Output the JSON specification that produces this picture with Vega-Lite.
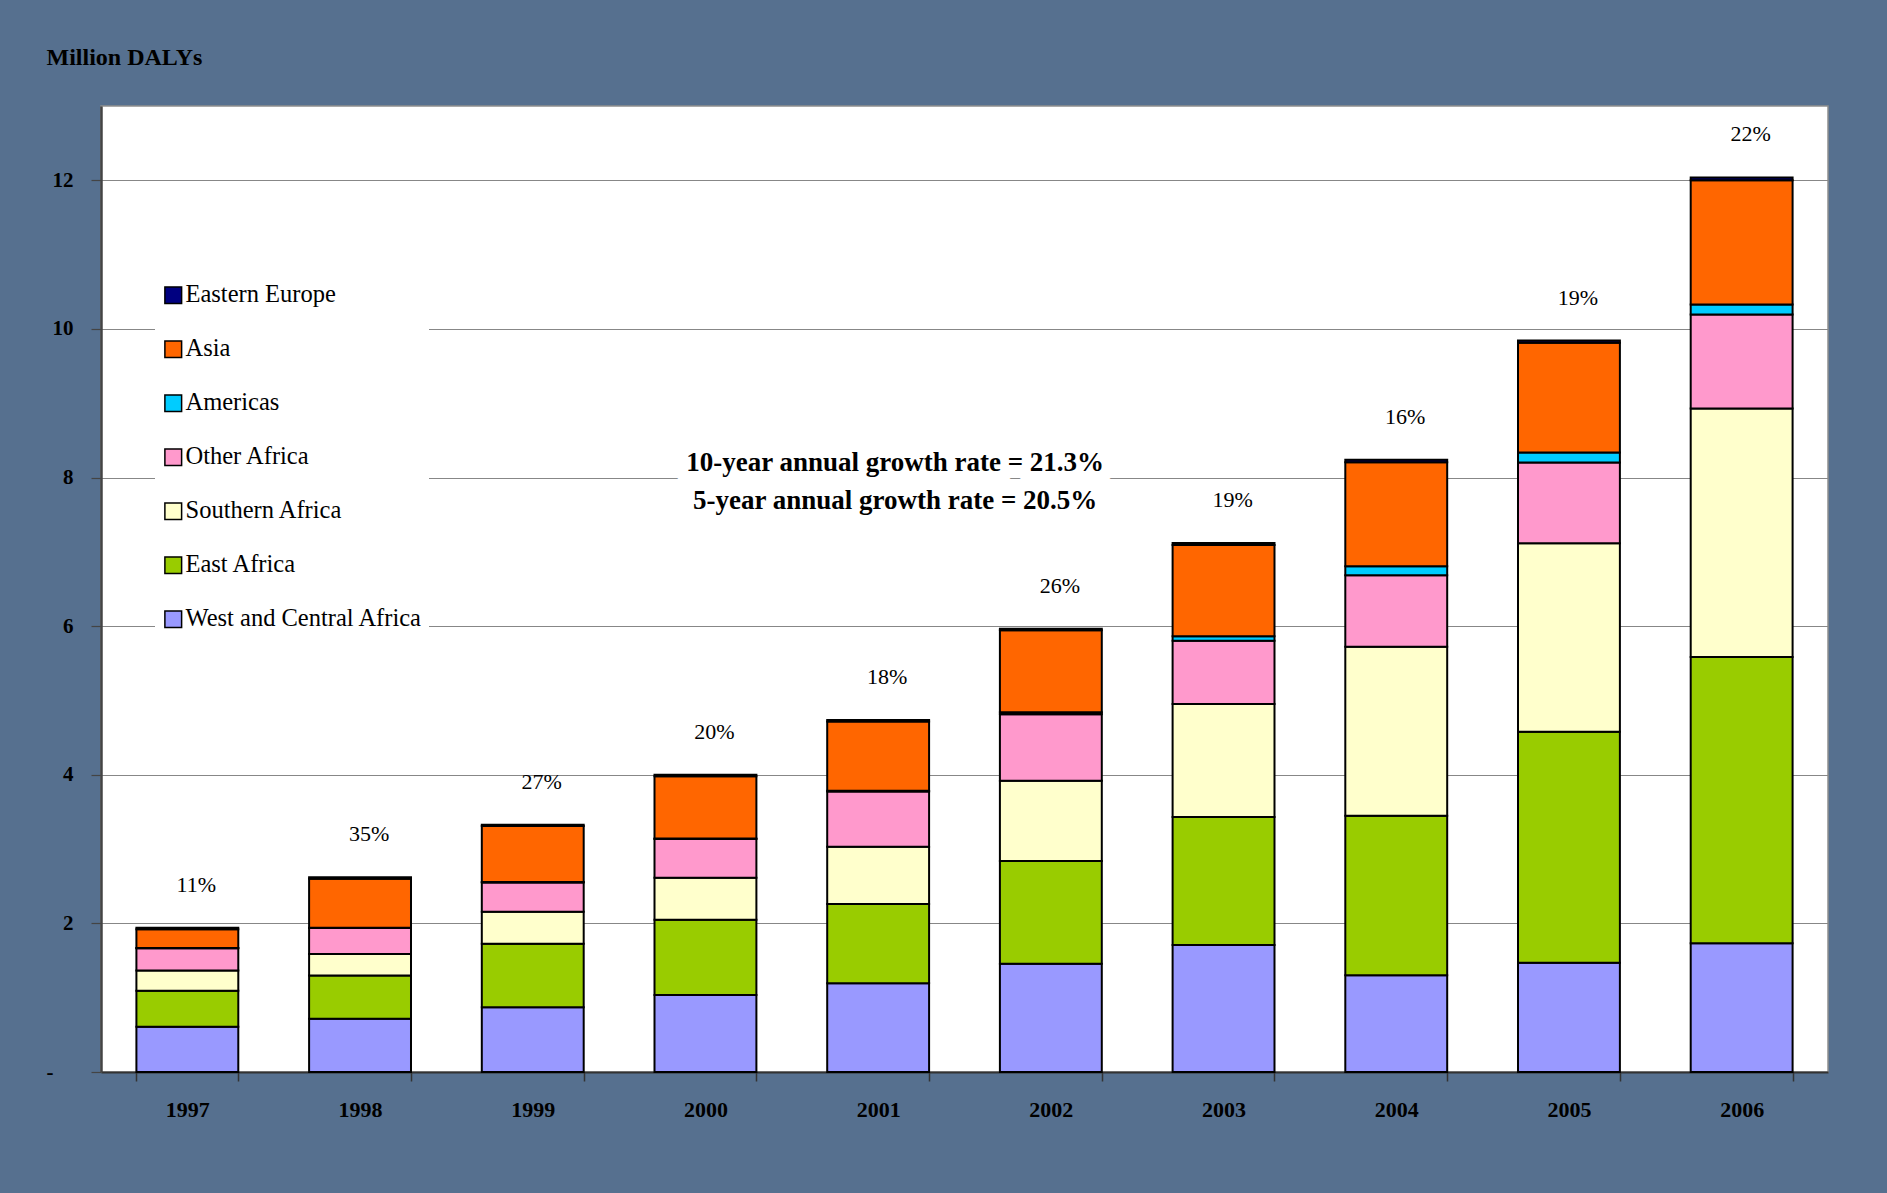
{
  "$schema": "https://vega.github.io/schema/vega-lite/v6.json",
  "width": 1727,
  "height": 966,
  "autosize": {"type": "none"},
  "padding": {"left": 101, "top": 106, "right": 59, "bottom": 121},
  "background": "#56708f",
  "datasets": {
    "daly": [
      {"year": "1997", "region": "West and Central Africa", "value": 0.61},
      {"year": "1997", "region": "East Africa", "value": 0.485},
      {"year": "1997", "region": "Southern Africa", "value": 0.27},
      {"year": "1997", "region": "Other Africa", "value": 0.30},
      {"year": "1997", "region": "Americas", "value": 0.005},
      {"year": "1997", "region": "Asia", "value": 0.25},
      {"year": "1997", "region": "Eastern Europe", "value": 0.02},
      {"year": "1998", "region": "West and Central Africa", "value": 0.717},
      {"year": "1998", "region": "East Africa", "value": 0.583},
      {"year": "1998", "region": "Southern Africa", "value": 0.287},
      {"year": "1998", "region": "Other Africa", "value": 0.35},
      {"year": "1998", "region": "Americas", "value": 0.005},
      {"year": "1998", "region": "Asia", "value": 0.66},
      {"year": "1998", "region": "Eastern Europe", "value": 0.02},
      {"year": "1999", "region": "West and Central Africa", "value": 0.87},
      {"year": "1999", "region": "East Africa", "value": 0.856},
      {"year": "1999", "region": "Southern Africa", "value": 0.43},
      {"year": "1999", "region": "Other Africa", "value": 0.395},
      {"year": "1999", "region": "Americas", "value": 0.005},
      {"year": "1999", "region": "Asia", "value": 0.755},
      {"year": "1999", "region": "Eastern Europe", "value": 0.015},
      {"year": "2000", "region": "West and Central Africa", "value": 1.036},
      {"year": "2000", "region": "East Africa", "value": 1.013},
      {"year": "2000", "region": "Southern Africa", "value": 0.565},
      {"year": "2000", "region": "Other Africa", "value": 0.52},
      {"year": "2000", "region": "Americas", "value": 0.01},
      {"year": "2000", "region": "Asia", "value": 0.835},
      {"year": "2000", "region": "Eastern Europe", "value": 0.02},
      {"year": "2001", "region": "West and Central Africa", "value": 1.193},
      {"year": "2001", "region": "East Africa", "value": 1.067},
      {"year": "2001", "region": "Southern Africa", "value": 0.771},
      {"year": "2001", "region": "Other Africa", "value": 0.745},
      {"year": "2001", "region": "Americas", "value": 0.01},
      {"year": "2001", "region": "Asia", "value": 0.93},
      {"year": "2001", "region": "Eastern Europe", "value": 0.02},
      {"year": "2002", "region": "West and Central Africa", "value": 1.457},
      {"year": "2002", "region": "East Africa", "value": 1.382},
      {"year": "2002", "region": "Southern Africa", "value": 1.08},
      {"year": "2002", "region": "Other Africa", "value": 0.897},
      {"year": "2002", "region": "Americas", "value": 0.025},
      {"year": "2002", "region": "Asia", "value": 1.105},
      {"year": "2002", "region": "Eastern Europe", "value": 0.02},
      {"year": "2003", "region": "West and Central Africa", "value": 1.708},
      {"year": "2003", "region": "East Africa", "value": 1.724},
      {"year": "2003", "region": "Southern Africa", "value": 1.519},
      {"year": "2003", "region": "Other Africa", "value": 0.854},
      {"year": "2003", "region": "Americas", "value": 0.06},
      {"year": "2003", "region": "Asia", "value": 1.227},
      {"year": "2003", "region": "Eastern Europe", "value": 0.027},
      {"year": "2004", "region": "West and Central Africa", "value": 1.303},
      {"year": "2004", "region": "East Africa", "value": 2.146},
      {"year": "2004", "region": "Southern Africa", "value": 2.275},
      {"year": "2004", "region": "Other Africa", "value": 0.962},
      {"year": "2004", "region": "Americas", "value": 0.12},
      {"year": "2004", "region": "Asia", "value": 1.40},
      {"year": "2004", "region": "Eastern Europe", "value": 0.033},
      {"year": "2005", "region": "West and Central Africa", "value": 1.469},
      {"year": "2005", "region": "East Africa", "value": 3.109},
      {"year": "2005", "region": "Southern Africa", "value": 2.539},
      {"year": "2005", "region": "Other Africa", "value": 1.086},
      {"year": "2005", "region": "Americas", "value": 0.133},
      {"year": "2005", "region": "Asia", "value": 1.477},
      {"year": "2005", "region": "Eastern Europe", "value": 0.031},
      {"year": "2006", "region": "West and Central Africa", "value": 1.734},
      {"year": "2006", "region": "East Africa", "value": 3.852},
      {"year": "2006", "region": "Southern Africa", "value": 3.344},
      {"year": "2006", "region": "Other Africa", "value": 1.265},
      {"year": "2006", "region": "Americas", "value": 0.133},
      {"year": "2006", "region": "Asia", "value": 1.672},
      {"year": "2006", "region": "Eastern Europe", "value": 0.039}
    ],
    "regions": [
      {"region": "West and Central Africa", "seq": 1},
      {"region": "East Africa", "seq": 2},
      {"region": "Southern Africa", "seq": 3},
      {"region": "Other Africa", "seq": 4},
      {"region": "Americas", "seq": 5},
      {"region": "Asia", "seq": 6},
      {"region": "Eastern Europe", "seq": 7}
    ],
    "growth": [
      {"year": "1997", "growth": "11%"},
      {"year": "1998", "growth": "35%"},
      {"year": "1999", "growth": "27%"},
      {"year": "2000", "growth": "20%"},
      {"year": "2001", "growth": "18%"},
      {"year": "2002", "growth": "26%"},
      {"year": "2003", "growth": "19%"},
      {"year": "2004", "growth": "16%"},
      {"year": "2005", "growth": "19%"},
      {"year": "2006", "growth": "22%"}
    ],
    "notes": [
      {"note": "10-year annual growth rate = 21.3%\n5-year annual growth rate = 20.5%"}
    ]
  },
  "layer": [
    {
      "data": {"name": "daly"},
      "transform": [
        {"lookup": "region", "from": {"data": {"name": "regions"}, "key": "region", "fields": ["seq"]}}
      ],
      "mark": {"type": "bar", "stroke": "#000000", "strokeWidth": 2},
      "encoding": {
        "x": {
          "field": "year", "type": "ordinal", "title": null,
          "scale": {"paddingInner": 0.41, "paddingOuter": 0.205},
          "axis": {
            "labelAngle": 0, "tickBand": "extent", "tickSize": 9, "tickColor": "#333333", "tickWidth": 1.5,
            "domainColor": "#333333", "domainWidth": 2, "labelFont": "Liberation Serif", "labelFontWeight": "bold",
            "labelFontSize": 22, "labelColor": "#000000", "labelPadding": 18, "grid": false
          }
        },
        "y": {
          "field": "value", "type": "quantitative", "stack": "zero", "title": "Million DALYs",
          "scale": {"domain": [0, 13], "nice": false},
          "axis": {
            "values": [0, 2, 4, 6, 8, 10, 12], "format": "d", "grid": true, "gridColor": "#878787", "gridWidth": 1,
            "domainColor": "#444444", "domainWidth": 2.5, "tickColor": "#444444", "tickSize": 10, "tickWidth": 1.2,
            "labelFont": "Liberation Serif", "labelFontWeight": "bold", "labelFontSize": 21, "labelColor": "#000000",
            "labelPadding": {"condition": {"test": "datum.value == 0", "value": 38}, "value": 18},
            "labelExpr": "datum.value == 0 ? '-' : datum.label",
            "titleAngle": 0, "titleAlign": "left", "titleBaseline": "middle", "titleX": -55, "titleY": -49,
            "titleFont": "Liberation Serif", "titleFontWeight": "bold", "titleFontSize": 24, "titleColor": "#000000"
          }
        },
        "order": {"field": "seq", "type": "quantitative"},
        "color": {
          "field": "region", "type": "nominal",
          "sort": ["Eastern Europe", "Asia", "Americas", "Other Africa", "Southern Africa", "East Africa", "West and Central Africa"],
          "scale": {
            "domain": ["Eastern Europe", "Asia", "Americas", "Other Africa", "Southern Africa", "East Africa", "West and Central Africa"],
            "range": ["#000080", "#ff6600", "#00ccff", "#ff99cc", "#ffffcc", "#99cc00", "#9999ff"]
          },
          "legend": {
            "orient": "none", "legendX": 54, "legendY": 171, "title": null, "fillColor": "#ffffff", "padding": 6,
            "symbolType": "square", "symbolSize": 280, "symbolStrokeColor": "#000000", "symbolStrokeWidth": 1.5,
            "symbolOpacity": 1, "labelFont": "Liberation Serif", "labelFontSize": 24.5, "labelColor": "#000000",
            "rowPadding": 29, "labelOffset": 0, "labelLimit": 400
          }
        }
      }
    },
    {
      "data": {"name": "daly"},
      "transform": [
        {"aggregate": [{"op": "sum", "field": "value", "as": "total"}], "groupby": ["year"]},
        {"lookup": "year", "from": {"data": {"name": "growth"}, "key": "year", "fields": ["growth"]}}
      ],
      "mark": {"type": "text", "dx": 9, "dy": -43, "font": "Liberation Serif", "fontSize": 22, "color": "#000000", "baseline": "middle"},
      "encoding": {
        "x": {"field": "year", "type": "ordinal", "title": null},
        "y": {"field": "total", "type": "quantitative", "title": "Million DALYs"},
        "text": {"field": "growth", "type": "nominal"}
      }
    },
    {
      "data": {"name": "notes"},
      "mark": {"type": "text", "lineBreak": "\n", "lineHeight": 38, "dx": 17, "dy": -15, "font": "Liberation Serif", "fontWeight": "bold", "fontSize": 27, "color": "#ffffff", "stroke": "#ffffff", "strokeWidth": 26, "strokeJoin": "round", "baseline": "middle", "align": "center"},
      "encoding": {
        "x": {"datum": "2001", "type": "ordinal"},
        "y": {"datum": 8, "type": "quantitative"},
        "text": {"field": "note", "type": "nominal"}
      }
    },
    {
      "data": {"name": "notes"},
      "mark": {"type": "text", "lineBreak": "\n", "lineHeight": 38, "dx": 17, "dy": -15, "font": "Liberation Serif", "fontWeight": "bold", "fontSize": 27, "color": "#000000", "baseline": "middle", "align": "center"},
      "encoding": {
        "x": {"datum": "2001", "type": "ordinal"},
        "y": {"datum": 8, "type": "quantitative"},
        "text": {"field": "note", "type": "nominal"}
      }
    }
  ],
  "config": {
    "font": "Liberation Serif",
    "view": {"stroke": "#8f8f8f", "strokeWidth": 1.5, "fill": "#ffffff"}
  }
}
